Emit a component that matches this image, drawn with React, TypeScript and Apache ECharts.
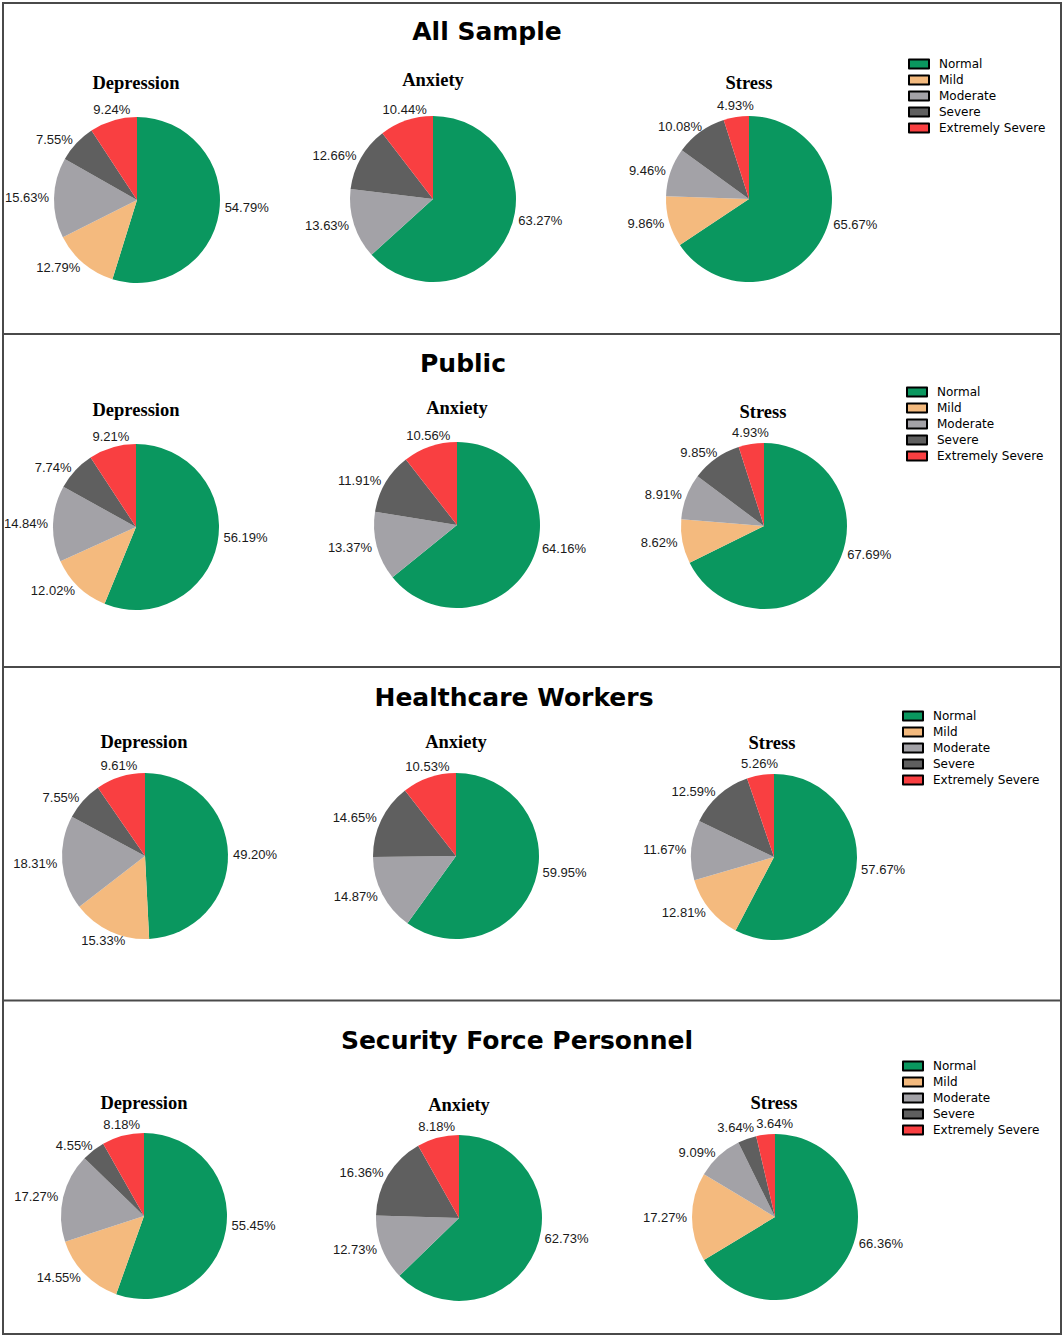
import React, { useEffect, useRef } from "react";
import * as echarts from "echarts";

// ---------- data ----------
const categories = ["Normal", "Mild", "Moderate", "Severe", "Extremely Severe"];
const panelTitles = ["All Sample", "Public", "Healthcare Workers", "Security Force Personnel"];
const scaleNames = ["Depression", "Anxiety", "Stress"];

// values in category order (Normal, Mild, Moderate, Severe, Extremely Severe)
const allDepression = [54.79, 12.79, 15.63, 7.55, 9.24];
const allAnxiety = [63.27, 0, 13.63, 12.66, 10.44];
const allStress = [65.67, 9.86, 9.46, 10.08, 4.93];

const publicDepression = [56.19, 12.02, 14.84, 7.74, 9.21];
const publicAnxiety = [64.16, 0, 13.37, 11.91, 10.56];
const publicStress = [67.69, 8.62, 8.91, 9.85, 4.93];

const hcwDepression = [49.2, 15.33, 18.31, 7.55, 9.61];
const hcwAnxiety = [59.95, 0, 14.87, 14.65, 10.53];
const hcwStress = [57.67, 12.81, 11.67, 12.59, 5.26];

const sfpDepression = [55.45, 14.55, 17.27, 4.55, 8.18];
const sfpAnxiety = [62.73, 0, 12.73, 16.36, 8.18];
const sfpStress = [66.36, 17.27, 9.09, 3.64, 3.64];

const panelValues = [
  [allDepression, allAnxiety, allStress],
  [publicDepression, publicAnxiety, publicStress],
  [hcwDepression, hcwAnxiety, hcwStress],
  [sfpDepression, sfpAnxiety, sfpStress],
];

// ---------- style / layout ----------
const colors = ["#0A975F", "#F4BA7E", "#A3A2A7", "#5F5F5F", "#F93F41"];
const R = 83;
const LABEL_R = 88;
const pieCenters = [
  [[137, 200], [433, 199], [749, 199]],
  [[136, 527], [457, 525], [764, 526]],
  [[145, 856], [456, 856], [774, 857]],
  [[144, 1216], [459, 1218], [775, 1217]],
];
const titlePos = [[487, 31], [463, 363], [514, 697], [517, 1040]];
const subTitlePos = [
  [[136, 83], [433, 80], [749, 83]],
  [[136, 410], [457, 408], [763, 412]],
  [[144, 742], [456, 742], [772, 743]],
  [[144, 1103], [459, 1105], [774, 1103]],
];
const legendPos = [[908, 57], [906, 385], [902, 709], [902, 1059]];
const panelLines = [334, 667, 1000.5];

const LABEL_FONT = '"Liberation Sans", Arial, sans-serif';

function computeLabels(vals: number[], cx: number, cy: number) {
  const canvas = document.createElement("canvas");
  const ctx = canvas.getContext("2d")!;
  ctx.font = '13px "Liberation Sans", Arial, sans-serif';
  const items = vals.filter((v) => v > 0);
  const total = items.reduce((a, b) => a + b, 0);
  let acc = 0;
  const boxes = items.map((v) => {
    const frac = v / total;
    let theta = ((acc + v / 2) / total) * 360;
    acc += v;
    if (frac > 0.45) theta = 90 + (theta - 90) * 0.6;
    const rad = (theta * Math.PI) / 180;
    const ux = Math.sin(rad);
    const uy = -Math.cos(rad);
    const w = ctx.measureText(v.toFixed(2) + "%").width;
    const h = 13;
    const px = cx + LABEL_R * ux;
    const py = cy + LABEL_R * uy;
    const f = Math.min(1, Math.max(0, (Math.abs(ux) - 0.35) / 0.3));
    const g = 1 - f;
    return {
      x: px + Math.sign(ux) * (w / 2) * f,
      y: py + Math.sign(uy) * (h / 2) * g,
      w,
      h,
    };
  });
  for (let k = 0; k < boxes.length; k++) {
    for (let j = k + 1; j < boxes.length; j++) {
      const a = boxes[k];
      const b = boxes[j];
      const ox = (a.w + b.w) / 2 + 2 - Math.abs(a.x - b.x);
      const oy = (a.h + b.h) / 2 - Math.abs(a.y - b.y);
      if (ox > 0 && oy > 0) {
        const s = a.x < b.x ? -1 : 1;
        a.x += (s * ox) / 2;
        b.x -= (s * ox) / 2;
      }
    }
  }
  return boxes;
}

export default function App() {
  const ref = useRef<HTMLDivElement>(null);

  useEffect(() => {
    const el = ref.current!;
    const chart = echarts.init(el, null, { renderer: "svg", width: 1064, height: 1339 });

    const series: any[] = [];
    const legends: any[] = [];
    const graphics: any[] = [];

    graphics.push({
      type: "rect",
      shape: { x: 3, y: 3, width: 1058, height: 1331 },
      style: { fill: "none", stroke: "#4a4a4a", lineWidth: 2 },
      z: 10,
    });
    panelLines.forEach((y) =>
      graphics.push({
        type: "line",
        shape: { x1: 3, y1: y, x2: 1061, y2: y },
        style: { stroke: "#4a4a4a", lineWidth: 2 },
        z: 10,
      })
    );

    panelValues.forEach((charts, p) => {
      graphics.push({
        type: "text",
        x: titlePos[p][0],
        y: titlePos[p][1],
        style: {
          text: panelTitles[p],
          font: 'bold 25px "DejaVu Sans", sans-serif',
          fill: "#000",
          align: "center",
          verticalAlign: "middle",
          textAlign: "center",
          textVerticalAlign: "middle",
        },
      });
      legends.push({
        data: categories,
        orient: "vertical",
        left: legendPos[p][0],
        top: legendPos[p][1],
        padding: 0,
        icon: "rect",
        itemWidth: 20,
        itemHeight: 9,
        itemGap: 2,
        selectedMode: false,
        itemStyle: { borderColor: "#000", borderWidth: 2 },
        textStyle: {
          fontFamily: '"DejaVu Sans", sans-serif',
          fontSize: 12,
          color: "#000",
          lineHeight: 14,
          padding: [0, 0, 0, 5],
        },
      });
      charts.forEach((vals, c) => {
        const [cx, cy] = pieCenters[p][c];
        const boxes = computeLabels(vals, cx, cy);
        graphics.push({
          type: "text",
          x: subTitlePos[p][c][0],
          y: subTitlePos[p][c][1],
          style: {
            text: scaleNames[c],
            font: 'bold 18.5px "Liberation Serif", "Times New Roman", serif',
            fill: "#000",
            align: "center",
            verticalAlign: "middle",
            textAlign: "center",
            textVerticalAlign: "middle",
          },
        });
        const data = vals
          .map((v, i) => ({ name: categories[i], value: v, itemStyle: { color: colors[i] } }))
          .filter((d) => d.value > 0);
        series.push({
          type: "pie",
          center: [cx, cy],
          radius: R,
          startAngle: 90,
          clockwise: true,
          avoidLabelOverlap: false,
          silent: true,
          data,
          itemStyle: { borderWidth: 0 },
          label: {
            show: true,
            position: "outside",
            formatter: (prm: any) => Number(prm.value).toFixed(2) + "%",
            fontFamily: LABEL_FONT,
            fontSize: 13,
            color: "#1a1a1a",
          },
          labelLine: { show: false, length: 4, length2: 0 },
          labelLayout: (prm: any) => {
            const b = boxes[prm.dataIndex];
            return { x: b.x, y: b.y, align: "center", verticalAlign: "middle" };
          },
        });
      });
    });

    chart.setOption({
      animation: false,
      backgroundColor: "#ffffff",
      legend: legends,
      series,
      graphic: graphics,
    });

    return () => chart.dispose();
  }, []);

  return (
    <div
      ref={ref}
      style={{ position: "absolute", left: 0, top: 0, width: 1064, height: 1339, background: "#fff" }}
    />
  );
}
